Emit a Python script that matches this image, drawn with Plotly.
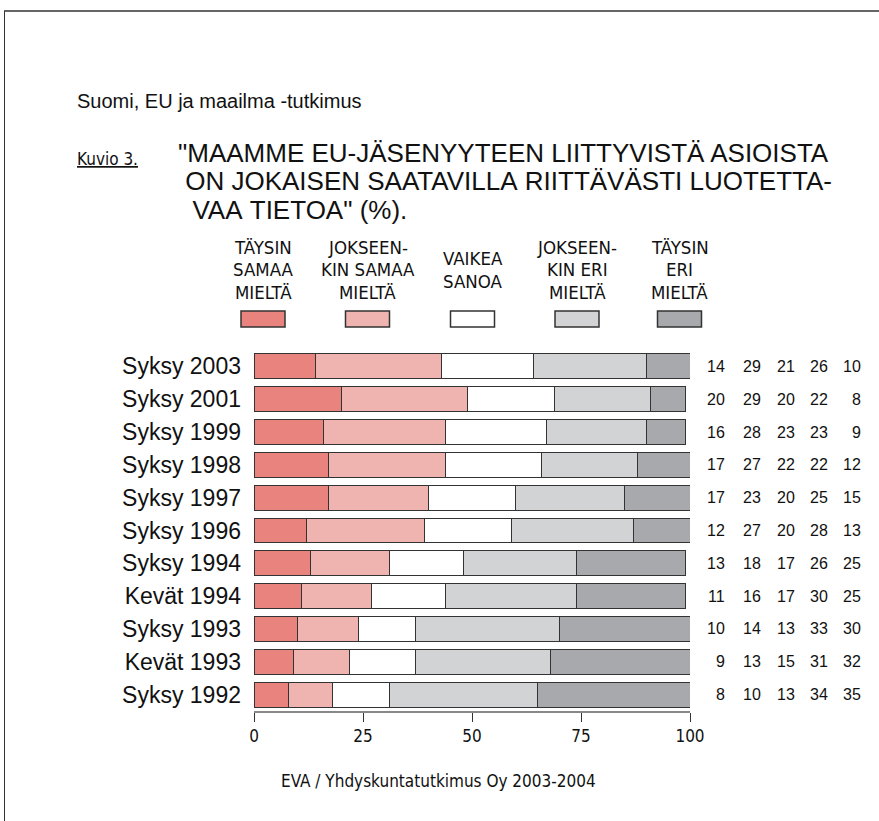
import plotly.graph_objects as go

categories = ["Syksy 2003", "Syksy 2001", "Syksy 1999", "Syksy 1998", "Syksy 1997",
              "Syksy 1996", "Syksy 1994", "Kevät 1994", "Syksy 1993", "Kevät 1993", "Syksy 1992"]
taysin_samaa = [14, 20, 16, 17, 17, 12, 13, 11, 10, 9, 8]
jokseenkin_samaa = [29, 29, 28, 27, 23, 27, 18, 16, 14, 13, 10]
vaikea_sanoa = [21, 20, 23, 22, 20, 20, 17, 17, 13, 15, 13]
jokseenkin_eri = [26, 22, 23, 22, 25, 28, 26, 30, 33, 31, 34]
taysin_eri = [10, 8, 9, 12, 15, 13, 25, 25, 30, 32, 35]

series_labels = ["TÄYSIN<br>SAMAA<br>MIELTÄ", "JOKSEEN-<br>KIN SAMAA<br>MIELTÄ", "VAIKEA<br>SANOA",
                 "JOKSEEN-<br>KIN ERI<br>MIELTÄ", "TÄYSIN<br>ERI<br>MIELTÄ"]
series_values = [taysin_samaa, jokseenkin_samaa, vaikea_sanoa, jokseenkin_eri, taysin_eri]
colors = ["#E8837D", "#EFB4AF", "#FFFFFF", "#D1D3D4", "#A7A9AC"]
tick_vals = [0, 25, 50, 75, 100]

subtitle = "Suomi, EU ja maailma -tutkimus"
figure_label = "Kuvio 3."
title_lines = ['"MAAMME EU-JÄSENYYTEEN LIITTYVISTÄ ASIOISTA',
               ' ON JOKAISEN SAATAVILLA RIITTÄVÄSTI LUOTETTA-',
               '  VAA TIETOA" (%).']
footer = "EVA / Yhdyskuntatutkimus Oy 2003-2004"

W, H = 879, 821
L, R, T, B = 254, 690, 350, 711  # plot area in px

def px(x):
    return (x - L) / (R - L)

def py(y):
    return (B - y) / (B - T)

REG = "Liberation Sans, Arial, sans-serif"
NARROW = "Liberation Sans Narrow, DejaVu Sans Condensed, Arial Narrow, sans-serif"

fig = go.Figure()
for name, vals, col in zip(series_labels, series_values, colors):
    fig.add_trace(go.Bar(
        y=categories, x=vals, orientation="h", name=name.replace("<br>", " "),
        marker=dict(color=col, line=dict(color="#333333", width=1)),
        width=0.76, showlegend=False, hoverinfo="x+y"))

annotations = []
# right-hand value columns
col_right = [727, 763, 797, 830, 863]
for vals, xr in zip(series_values, col_right):
    for cat, v in zip(categories, vals):
        annotations.append(dict(x=px(xr), xref="paper", y=cat, yref="y", text=str(v),
                                showarrow=False, xanchor="right", yanchor="middle",
                                font=dict(family=REG, size=16, color="#111")))

# legend
leg_cx = [263, 367.5, 472.5, 577, 679.5]
shapes = []
for cx, lab, col in zip(leg_cx, series_labels, colors):
    lines = lab.split("<br>")
    n = len(lines)
    for k, ln in enumerate(lines):
        yc = 270 + (k - (n - 1) / 2) * 22.5
        annotations.append(dict(x=px(cx), xref="paper", y=py(yc), yref="paper", text=ln,
                                showarrow=False, xanchor="center", yanchor="middle",
                                font=dict(family=NARROW, size=18.5, color="#111")))
    shapes.append(dict(type="rect", xref="paper", yref="paper",
                       x0=px(cx - 22), x1=px(cx + 22), y0=py(327), y1=py(311),
                       fillcolor=col, line=dict(color="#333", width=1.5)))

# titles
annotations.append(dict(x=px(75), xref="paper", y=py(101), yref="paper", text=subtitle,
                        showarrow=False, xanchor="left", yanchor="middle",
                        font=dict(family=REG, size=20, color="#111")))
annotations.append(dict(x=px(75), xref="paper", y=py(159), yref="paper",
                        text="<u>" + figure_label + "</u>",
                        showarrow=False, xanchor="left", yanchor="middle",
                        font=dict(family=NARROW, size=17, color="#111")))
for i, line in enumerate(title_lines):
    annotations.append(dict(x=px(176), xref="paper", y=py(153 + i * 28.5), yref="paper",
                            text=line.replace(" ", "&nbsp;") if line.startswith(" ") else line,
                            showarrow=False, xanchor="left", yanchor="middle",
                            font=dict(family=REG, size=26, color="#111")))
annotations.append(dict(x=px(438), xref="paper", y=py(781), yref="paper", text=footer,
                        showarrow=False, xanchor="center", yanchor="middle",
                        font=dict(family=NARROW, size=17, color="#111")))

# frame lines
shapes.append(dict(type="line", xref="paper", yref="paper", x0=px(4), x1=px(879),
                   y0=py(11), y1=py(11), line=dict(color="#666", width=2)))
shapes.append(dict(type="line", xref="paper", yref="paper", x0=px(4.5), x1=px(4.5),
                   y0=py(11), y1=py(821), line=dict(color="#333", width=1)))

fig.update_layout(
    width=W, height=H, barmode="stack",
    margin=dict(l=L, r=W - R, t=T, b=H - B, pad=0),
    paper_bgcolor="white", plot_bgcolor="white",
    annotations=annotations, shapes=shapes,
    xaxis=dict(range=[0, 100], tickvals=tick_vals, ticks="outside", ticklen=9,
               tickcolor="#333", tickwidth=1, showline=True, linecolor="#888", linewidth=2,
               showgrid=False, zeroline=False,
               tickfont=dict(family=NARROW, size=17, color="#111")),
    yaxis=dict(categoryorder="array", categoryarray=categories, autorange="reversed",
               showgrid=False, zeroline=False, showline=False, ticks="",
               ticklabelstandoff=12,
               tickfont=dict(family=REG, size=23, color="#111")),
)

fig.write_html("out.html", config={"displayModeBar": False},
               post_script="document.body.style.margin='0';document.body.style.overflow='hidden';")
